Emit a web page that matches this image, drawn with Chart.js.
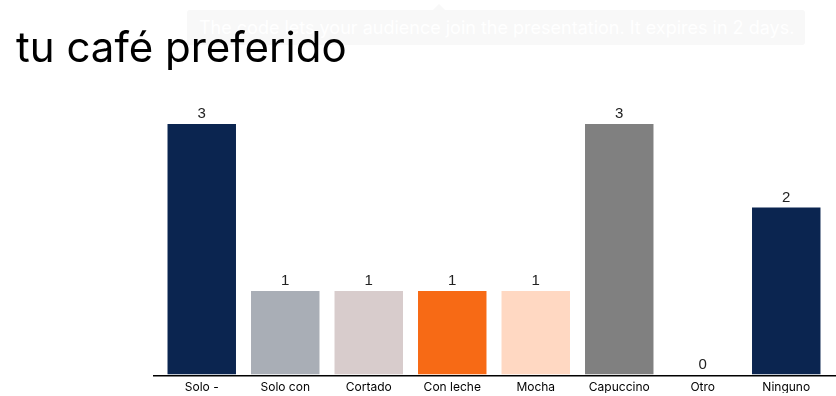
<!DOCTYPE html>
<html>
<head>
<meta charset="utf-8">
<script src="https://cdn.jsdelivr.net/npm/chart.js@4.4.1/dist/chart.umd.min.js"></script>
<style>
html,body{margin:0;padding:0;background:#fff;width:836px;height:396px;overflow:hidden;}
#wrap{position:relative;width:836px;height:396px;overflow:hidden;}
#title{position:absolute;left:16px;top:21px;font-family:Inter,"Open Sans",sans-serif;font-size:42px;font-weight:400;color:#000;letter-spacing:0;white-space:nowrap;z-index:3;}
#tip{position:absolute;left:187px;top:10px;width:618px;height:35px;background:#f8f8f8;border-radius:3px;color:#fff;font-family:Inter,sans-serif;font-size:18px;line-height:35px;padding-left:12px;box-sizing:border-box;white-space:nowrap;z-index:2;}
#tip:before{content:"";position:absolute;left:246px;top:-6px;border-left:6px solid transparent;border-right:6px solid transparent;border-bottom:6px solid #f8f8f8;}
canvas{position:absolute;left:0;top:0;}
</style>
</head>
<body>
<div id="wrap">
<div id="tip">The code lets your audience join the presentation. It expires in 2 days.</div>
<div id="title">tu café preferido</div>
<canvas id="c" width="836" height="396"></canvas>
</div>
<script>
const categories = ["Solo -", "Solo con", "Cortado", "Con leche", "Mocha", "Capuccino", "Otro", "Ninguno"];
const votes = [3, 1, 1, 1, 1, 3, 0, 2];
const barColors = ["#0b2550", "#a9aeb6", "#d8cccc", "#f76a15", "#ffd8c2", "#808080", "#808080", "#0b2550"];

const valueLabels = {
  id: 'valueLabels',
  afterDatasetsDraw(chart) {
    const ctx = chart.ctx;
    const meta = chart.getDatasetMeta(0);
    ctx.save();
    ctx.font = '15px "Liberation Sans", Arial, sans-serif';
    ctx.fillStyle = '#222';
    ctx.textAlign = 'center';
    ctx.textBaseline = 'alphabetic';
    meta.data.forEach((bar, i) => {
      ctx.fillText(String(votes[i]), bar.x, bar.y - 6);
    });
    ctx.restore();
  }
};
const axisLine = {
  id: 'axisLine',
  afterDatasetsDraw(chart) {
    const ctx = chart.ctx;
    const y = chart.scales.y.getPixelForValue(0);
    ctx.save();
    ctx.strokeStyle = '#000';
    ctx.lineWidth = 1.5;
    ctx.beginPath();
    ctx.moveTo(153, Math.round(y) + 0.75);
    ctx.lineTo(836, Math.round(y) + 0.75);
    ctx.stroke();
    ctx.restore();
  }
};

new Chart(document.getElementById('c'), {
  type: 'bar',
  data: {
    labels: categories,
    datasets: [{
      data: votes,
      backgroundColor: barColors,
      borderWidth: 0,
      barPercentage: 0.82,
      categoryPercentage: 1.0
    }]
  },
  options: {
    responsive: false,
    animation: false,
    layout: { padding: { left: 160, right: 8, top: 124, bottom: 3 } },
    plugins: { legend: { display: false }, tooltip: { enabled: false } },
    scales: {
      x: {
        grid: { display: false },
        border: { display: false },
        ticks: { color: '#000', font: { family: 'Inter, sans-serif', size: 12 }, padding: -2, maxRotation: 0 }
      },
      y: {
        display: false,
        min: 0,
        max: 3
      }
    }
  },
  plugins: [valueLabels, axisLine]
});
</script>
</body>
</html>
